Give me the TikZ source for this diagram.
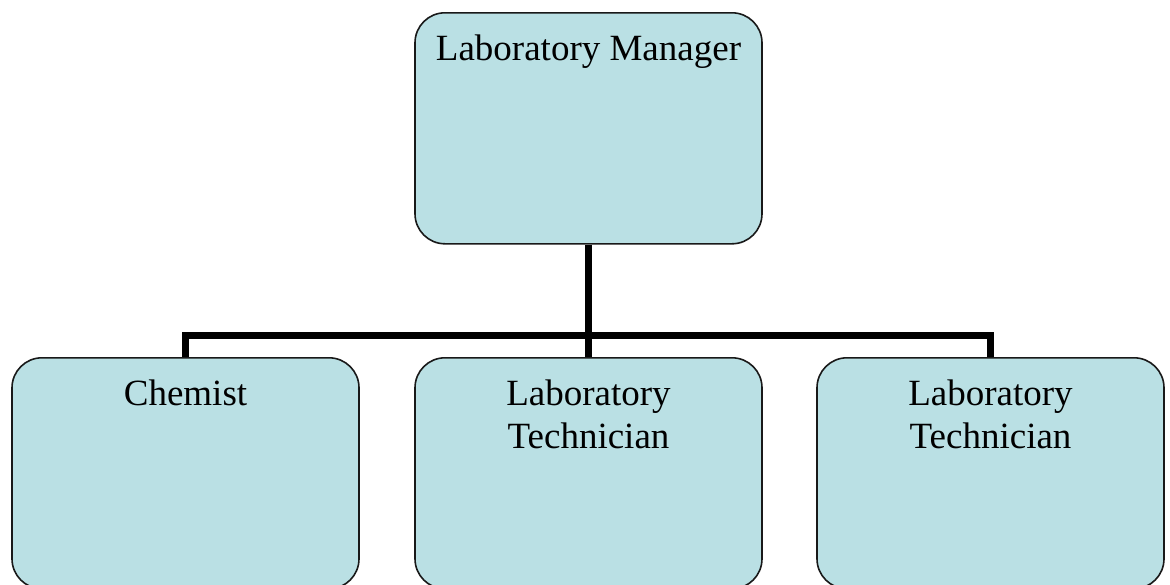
\documentclass[tikz,border=0pt]{standalone}
\usepackage{fontspec}
\setmainfont{Liberation Serif}
\definecolor{boxfill}{RGB}{186,224,228}
\tikzset{
  post/.style={draw=black!90,line width=1.6pt,fill=boxfill,rounded corners=30pt,
    minimum width=347pt,inner sep=0pt,text height=48pt,text depth=183pt,
    anchor=north,font=\fontsize{37}{43}\selectfont},
  link/.style={line width=7pt}
}
\newcommand{\posttext}[1]{\begin{tabular}[t]{@{}c@{}}#1\end{tabular}}
\begin{document}
\begin{tikzpicture}[x=1pt,y=-1pt]
    \useasboundingbox (0,0) rectangle (1170,584);
    \clip (0,0) rectangle (1170,584);
    % boxes
    \node[post] (mgr) at (588.5,12) {\posttext{Laboratory Manager}};
    \node[post] (chem) at (185.5,357) {\posttext{Chemist}};
    \node[post] (tech1) at (588.5,357) {\posttext{Laboratory\\Technician}};
    \node[post] (tech2) at (990.5,357) {\posttext{Laboratory\\Technician}};
    % lines
    \draw[link] (mgr.south) -- ++(0,91) coordinate (bus);
    \draw[link] (bus) -| (chem.north);
    \draw[link] (bus) -| (tech2.north);
    \draw[link] (bus) -- (tech1.north);
  \end{tikzpicture}
\end{document}
